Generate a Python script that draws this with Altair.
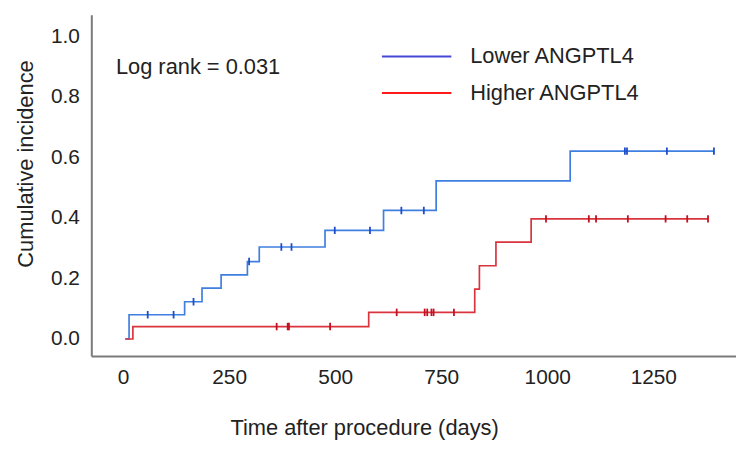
import altair as alt
import pandas as pd

groups = ["Lower ANGPTL4", "Higher ANGPTL4"]

# step curves (time in days, cumulative incidence)
lower_t = [5, 14, 145, 186, 231, 293, 321, 476, 614, 738, 1054, 1393]
lower_y = [0.0, 0.080, 0.123, 0.168, 0.212, 0.256, 0.304, 0.359, 0.425, 0.523, 0.621, 0.621]
lower_cens_t = [58, 119, 166, 297, 373, 397, 499, 582, 656, 709, 1183, 1188, 1282, 1393]

higher_t = [5, 23, 579, 829, 840, 879, 962, 1379]
higher_y = [0.0, 0.041, 0.088, 0.165, 0.242, 0.320, 0.397, 0.397]
higher_cens_t = [362, 388, 391, 488, 645, 711, 717, 727, 732, 780, 997, 1098, 1115, 1190, 1279, 1330, 1379]

x_ticks = [0, 250, 500, 750, 1000, 1250]
y_ticks = [0.0, 0.2, 0.4, 0.6, 0.8, 1.0]

annotation = "Log rank = 0.031"

line_colors = ["#3f7fe0", "#d9343e"]
mark_colors = ["#1f4cc8", "#c2101e"]
legend_colors = ["#4848d8", "#ff1a1a"]

FONT = "Liberation Sans"


def step_value(ts, ys, t):
    v = ys[0]
    for ti, yi in zip(ts, ys):
        if ti <= t:
            v = yi
    return v


curve_low = pd.DataFrame({"t": lower_t, "y": lower_y})
curve_high = pd.DataFrame({"t": higher_t, "y": higher_y})
cens_low = pd.DataFrame({"t": lower_cens_t,
                         "y": [step_value(lower_t, lower_y, t) for t in lower_cens_t]})
cens_high = pd.DataFrame({"t": higher_cens_t,
                          "y": [step_value(higher_t, higher_y, t) for t in higher_cens_t]})
legend_df = pd.DataFrame({"group": groups, "t": [-1000, -1000], "y": [-1, -1]})
text_df = pd.DataFrame({"t": [-17], "y": [0.898], "label": [annotation]})

xs = alt.Scale(domain=[-75, 1445], nice=False, zero=False)
ys = alt.Scale(domain=[-0.056, 1.072], nice=False, zero=False)

x_axis = alt.Axis(values=x_ticks, format="d", title="Time after procedure (days)", grid=False, ticks=False,
                  labelFontSize=21, labelPadding=11, titleFontSize=22, titleFontWeight="normal",
                  titleX=275, titleY=72, titleBaseline="middle", titleAlign="center",
                  domainColor="#7a7a7a", domainWidth=2, labelColor="#222222", titleColor="#222222",
                  labelFont=FONT, titleFont=FONT)
y_axis = alt.Axis(values=y_ticks, format=".1f", title="Cumulative incidence", grid=False, ticks=False,
                  labelFontSize=21, labelPadding=12, titleFontSize=22, titleFontWeight="normal",
                  titleX=-66, titleY=150, titleBaseline="middle", titleAlign="center", titleAngle=-90,
                  domainColor="#7a7a7a", domainWidth=2, labelColor="#222222", titleColor="#222222",
                  labelFont=FONT, titleFont=FONT)

X = alt.X("t:Q", scale=xs, axis=x_axis)
Y = alt.Y("y:Q", scale=ys, axis=y_axis)
Xn = alt.X("t:Q", scale=xs)
Yn = alt.Y("y:Q", scale=ys)

tick_shape = "M0,-1L0,1"

layers = [
    alt.Chart(curve_low).mark_line(interpolate="step-after", color=line_colors[0], strokeWidth=1.7, clip=True)
    .encode(x=X, y=Y),
    alt.Chart(curve_high).mark_line(interpolate="step-after", color=line_colors[1], strokeWidth=1.7, clip=True)
    .encode(x=Xn, y=Yn),
    alt.Chart(cens_low).mark_point(shape=tick_shape, size=56, strokeWidth=1.8, color=mark_colors[0],
                                   filled=False, opacity=1, clip=True).encode(x=Xn, y=Yn),
    alt.Chart(cens_high).mark_point(shape=tick_shape, size=56, strokeWidth=1.8, color=mark_colors[1],
                                    filled=False, opacity=1, clip=True).encode(x=Xn, y=Yn),
    alt.Chart(legend_df).mark_line(clip=True).encode(
        x=Xn, y=Yn,
        color=alt.Color("group:N", scale=alt.Scale(domain=groups, range=legend_colors),
                        legend=alt.Legend(title=None, orient="none", legendX=317, legendY=31,
                                          symbolType="M-3.5,0L3.5,0", symbolSize=400,
                                          symbolStrokeWidth=2, labelFontSize=22, labelFont=FONT,
                                          labelColor="#222222", labelOffset=43, rowPadding=15,
                                          labelLimit=400))),
    alt.Chart(text_df).mark_text(align="left", baseline="middle", fontSize=22, font=FONT,
                                 color="#222222").encode(x=Xn, y=Yn, text="label:N"),
]

chart = alt.layer(*layers).properties(
    width=650, height=344,
    autosize=alt.AutoSizeParams(type="none"),
    padding={"left": 84, "top": 5, "right": 0, "bottom": 84},
).configure_view(stroke=None)

chart.save("out.html", embed_options={"renderer": "svg", "actions": False})
